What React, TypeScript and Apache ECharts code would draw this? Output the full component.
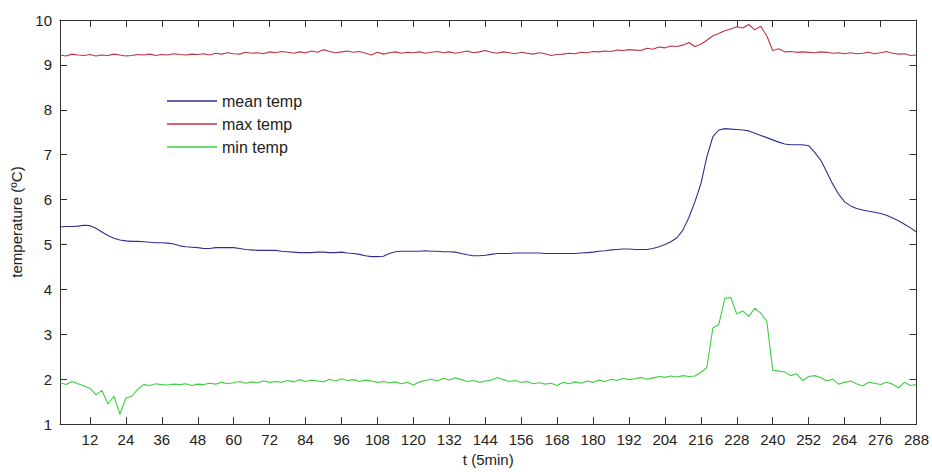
import React, { useEffect, useRef } from "react";
import * as echarts from "echarts";

// time axis: samples every 2 steps, from t=2 to t=288
const T_START = 2;
const T_STEP = 2;

const xTicks = [12, 24, 36, 48, 60, 72, 84, 96, 108, 120, 132, 144, 156, 168, 180, 192, 204, 216, 228, 240, 252, 264, 276, 288];
const yTicks = [1, 2, 3, 4, 5, 6, 7, 8, 9, 10];

const seriesNames = ["mean temp", "max temp", "min temp"];

const meanTemp = [
  5.39, 5.40, 5.40, 5.41, 5.43, 5.42, 5.36, 5.28, 5.20, 5.14, 5.10, 5.08,
  5.07, 5.07, 5.06, 5.05, 5.04, 5.04, 5.03, 5.01, 4.97, 4.95, 4.94, 4.93,
  4.91, 4.91, 4.93, 4.93, 4.93, 4.93, 4.91, 4.89, 4.88, 4.87, 4.87, 4.87,
  4.87, 4.85, 4.84, 4.83, 4.82, 4.82, 4.82, 4.83, 4.83, 4.82, 4.82, 4.83,
  4.81, 4.80, 4.78, 4.75, 4.73, 4.73, 4.74, 4.80, 4.84, 4.85, 4.85, 4.85,
  4.85, 4.86, 4.85, 4.85, 4.84, 4.84, 4.83, 4.80, 4.77, 4.75, 4.75, 4.76,
  4.78, 4.80, 4.80, 4.80, 4.81, 4.81, 4.81, 4.81, 4.81, 4.80, 4.80, 4.80,
  4.80, 4.80, 4.80, 4.81, 4.82, 4.83, 4.85, 4.86, 4.88, 4.89, 4.90, 4.90,
  4.89, 4.89, 4.89, 4.91, 4.95, 5.00, 5.06, 5.15, 5.32, 5.60, 5.95, 6.35,
  6.95, 7.40, 7.55, 7.58, 7.57, 7.56, 7.55, 7.53, 7.48, 7.43, 7.38, 7.33,
  7.28, 7.24, 7.22, 7.22, 7.22, 7.20, 7.05, 6.88, 6.62, 6.35, 6.12, 5.95,
  5.86, 5.80, 5.77, 5.74, 5.72, 5.69, 5.65, 5.59, 5.53, 5.45, 5.37, 5.28,
];

const maxTemp = [
  9.22, 9.20, 9.24, 9.22, 9.21, 9.23, 9.20, 9.22, 9.21, 9.24, 9.22, 9.20,
  9.21, 9.23, 9.22, 9.24, 9.21, 9.23, 9.22, 9.25, 9.23, 9.22, 9.24, 9.23,
  9.25, 9.22, 9.26, 9.24, 9.27, 9.25, 9.24, 9.28, 9.26, 9.27, 9.25, 9.29,
  9.27, 9.30, 9.28, 9.26, 9.29, 9.27, 9.31, 9.28, 9.34, 9.30, 9.27, 9.29,
  9.31, 9.28, 9.30, 9.26, 9.22, 9.28, 9.24, 9.27, 9.29, 9.26, 9.28, 9.27,
  9.29, 9.26, 9.28, 9.30, 9.27, 9.29, 9.26, 9.28, 9.31, 9.27, 9.29, 9.32,
  9.28, 9.26, 9.29, 9.27, 9.25, 9.28, 9.26, 9.24, 9.27, 9.25, 9.21, 9.23,
  9.24, 9.26, 9.25, 9.28, 9.27, 9.30, 9.29, 9.31, 9.30, 9.33, 9.32, 9.34,
  9.33, 9.32, 9.37, 9.35, 9.40, 9.38, 9.42, 9.41, 9.44, 9.50, 9.41, 9.46,
  9.55, 9.65, 9.70, 9.76, 9.80, 9.85, 9.82, 9.90, 9.78, 9.86, 9.65, 9.32,
  9.36, 9.29, 9.30, 9.28, 9.29, 9.28, 9.27, 9.29, 9.28, 9.26, 9.27, 9.25,
  9.27, 9.25, 9.26, 9.28, 9.25, 9.27, 9.30, 9.26, 9.24, 9.25, 9.21, 9.22,
];

const minTemp = [
  1.92, 1.88, 1.95, 1.90, 1.85, 1.80, 1.65, 1.75, 1.45, 1.62, 1.22, 1.58,
  1.62, 1.78, 1.88, 1.86, 1.90, 1.88, 1.87, 1.89, 1.88, 1.90, 1.86, 1.89,
  1.88, 1.91, 1.89, 1.93, 1.90, 1.92, 1.95, 1.91, 1.94, 1.92, 1.96, 1.93,
  1.95, 1.93, 1.97, 1.94, 1.99, 1.95, 1.98, 1.96, 1.94, 2.00, 1.96, 2.01,
  1.97, 1.99, 1.95, 1.98, 1.96, 1.93, 1.95, 1.92, 1.94, 1.90, 1.93, 1.87,
  1.94, 1.97, 2.00, 1.96, 2.02, 1.98, 2.03, 1.99, 1.95, 1.97, 1.93, 1.96,
  1.98, 2.04, 1.99, 1.95, 1.97, 1.93, 1.95, 1.90, 1.92, 1.89, 1.91, 1.86,
  1.93, 1.90, 1.94, 1.91, 1.96, 1.93, 1.98, 1.95, 2.00, 1.97, 2.02, 1.99,
  2.01, 2.04, 2.00, 2.03, 2.06, 2.04, 2.07, 2.05, 2.08, 2.06, 2.07, 2.15,
  2.26, 3.14, 3.22, 3.80, 3.82, 3.45, 3.52, 3.40, 3.58, 3.47, 3.30, 2.20,
  2.18, 2.16, 2.08, 2.12, 1.97, 2.06, 2.08, 2.04, 1.96, 2.00, 1.89, 1.93,
  1.96, 1.90, 1.85, 1.93, 1.91, 1.88, 1.93, 1.89, 1.81, 1.93, 1.86, 1.88,
];

const colors = ["#2f2f92", "#bf3442", "#3fcf3f"];

const toPairs = (vals: number[]) => vals.map((v, i) => [T_START + i * T_STEP, v]);

const FONT = "Liberation Sans, Arial, sans-serif";
const AXIS_COLOR = "#333";

export default function App() {
  const ref = useRef<HTMLDivElement>(null);

  useEffect(() => {
    document.body.style.margin = "0";
    if (!ref.current) return;
    const chart = echarts.init(ref.current, undefined, { renderer: "svg" });
    const lineAxis = { show: true, lineStyle: { color: AXIS_COLOR, width: 1 } };
    const option: any = {
      animation: false,
      backgroundColor: "#fff",
      textStyle: { fontFamily: FONT },
      grid: { left: 60, right: 15, top: 20, bottom: 45 },
      legend: {
        data: seriesNames.map((n) => ({ name: n, icon: "rect" })),
        orient: "vertical",
        left: 162,
        top: 88,
        itemWidth: 50,
        itemHeight: 1.3,
        itemGap: 7,
        textStyle: { fontSize: 16, color: "#222", fontFamily: FONT, lineHeight: 15 },
      },
      xAxis: [
        {
          type: "value",
          min: T_START,
          max: 288,
          name: "t (5min)",
          nameLocation: "middle",
          nameGap: 27,
          nameTextStyle: { fontSize: 15, color: "#222", fontFamily: FONT },
          axisLine: lineAxis,
          axisTick: { show: true, inside: true, length: 7, customValues: xTicks, lineStyle: { color: AXIS_COLOR } },
          axisLabel: { customValues: xTicks, fontSize: 15, color: "#222", margin: 8, fontFamily: FONT },
          splitLine: { show: false },
        },
        {
          type: "value",
          position: "top",
          min: T_START,
          max: 288,
          axisLine: lineAxis,
          axisTick: { show: true, inside: true, length: 7, customValues: xTicks, lineStyle: { color: AXIS_COLOR } },
          axisLabel: { show: false },
          splitLine: { show: false },
        },
      ],
      yAxis: [
        {
          type: "value",
          min: 1,
          max: 10,
          interval: 1,
          name: "temperature (ºC)",
          nameLocation: "middle",
          nameGap: 34,
          nameTextStyle: { fontSize: 15, color: "#222", fontFamily: FONT },
          axisLine: lineAxis,
          axisTick: { show: true, inside: true, length: 7, customValues: yTicks, lineStyle: { color: AXIS_COLOR } },
          axisLabel: { customValues: yTicks, fontSize: 15, color: "#222", margin: 8, fontFamily: FONT },
          splitLine: { show: false },
        },
        {
          type: "value",
          position: "right",
          min: 1,
          max: 10,
          interval: 1,
          axisLine: lineAxis,
          axisTick: { show: true, inside: true, length: 7, lineStyle: { color: AXIS_COLOR } },
          axisLabel: { show: false },
          splitLine: { show: false },
        },
      ],
      series: [
        { name: seriesNames[0], type: "line", data: toPairs(meanTemp), color: colors[0] },
        { name: seriesNames[1], type: "line", data: toPairs(maxTemp), color: colors[1] },
        { name: seriesNames[2], type: "line", data: toPairs(minTemp), color: colors[2] },
      ].map((s) => ({
        ...s,
        symbol: "none",
        lineStyle: { width: 1.1, color: s.color },
        itemStyle: { color: s.color },
        xAxisIndex: 0,
        yAxisIndex: 0,
      })),
    };
    chart.setOption(option);
    return () => chart.dispose();
  }, []);

  return <div ref={ref} style={{ width: 932, height: 472 }} />;
}
